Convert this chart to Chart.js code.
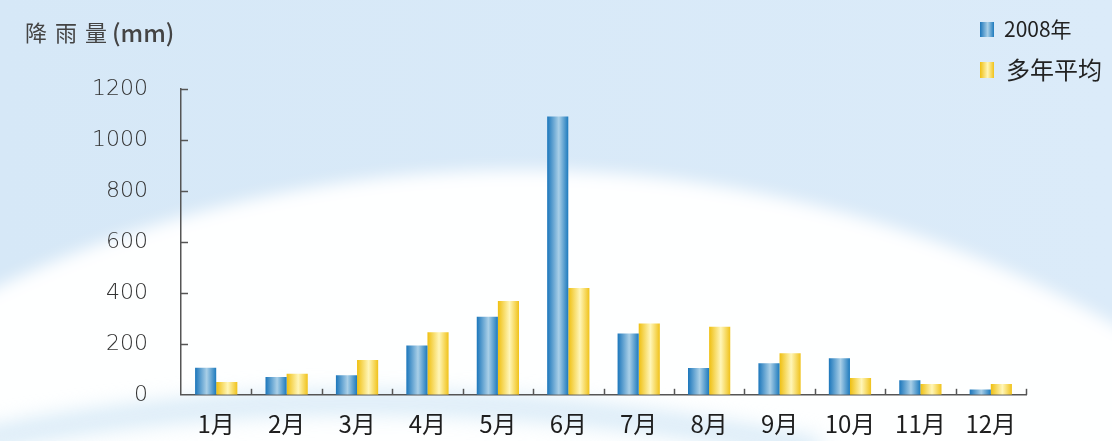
<!DOCTYPE html>
<html><head><meta charset="utf-8">
<script src="https://cdn.jsdelivr.net/npm/chart.js@4/dist/chart.umd.min.js"></script>
<style>html,body{margin:0;padding:0;background:#fff;overflow:hidden}#wrap{width:1112px;height:441px;position:relative}</style>
</head><body><div id="wrap"><canvas id="c" width="1112" height="441"></canvas></div>
<script>
const categories = ['1月','2月','3月','4月','5月','6月','7月','8月','9月','10月','11月','12月'];
const series2008 = [106, 70, 77, 193, 306, 1092, 241, 105, 124, 143, 57, 21];
const seriesAvg = [50, 83, 137, 245, 368, 419, 280, 267, 163, 66, 42, 42];
const yTicks = [0, 200, 400, 600, 800, 1000, 1200];
const seriesNames = ['2008年', '多年平均'];
const yTitleMain = '降雨量';
const yTitleUnit = '(mm)';

const BLUE_STOPS = [[0,'#1b76bb'],[0.55,'#a9cfe7'],[1,'#1d7abd']];
const YELLOW_STOPS = [[0,'#efbf10'],[0.55,'#fff6b8'],[1,'#f0c21a']];

function hGrad(ctx, x0, x1, stops){
  const g = ctx.createLinearGradient(x0,0,x1,0);
  stops.forEach(s=>g.addColorStop(s[0],s[1]));
  return g;
}

const bgPlugin = {
  id:'bg',
  beforeDraw(chart){
    const ctx = chart.ctx, W = chart.width, H = chart.height;
    ctx.save();
    const g = ctx.createLinearGradient(0,0,W,0);
    g.addColorStop(0,'#d6e8f7'); g.addColorStop(1,'#dbebf9');
    ctx.fillStyle = g; ctx.fillRect(0,0,W,H);
    ctx.filter = 'blur(8px)';
    ctx.fillStyle = 'rgba(255,255,255,0.97)';
    ctx.beginPath();
    ctx.ellipse(520, 1050, 1050, 880, 0, 0, Math.PI*2);
    ctx.fill();
    ctx.filter = 'blur(10px)';
    ctx.strokeStyle = 'rgba(200,225,243,0.7)';
    ctx.lineWidth = 22;
    ctx.beginPath();
    ctx.moveTo(-20, 440);
    ctx.quadraticCurveTo(380, 360, 820, 450);
    ctx.stroke();
    ctx.restore();
  }
};

const decoPlugin = {
  id:'deco',
  beforeDatasetsDraw(chart){
    const ctx = chart.ctx;
    chart.data.datasets.forEach((ds, di)=>{
      const meta = chart.getDatasetMeta(di);
      const stops = di === 0 ? BLUE_STOPS : YELLOW_STOPS;
      meta.data.forEach(bar=>{
        const w = bar.width;
        const o = Object.assign({}, bar.options);
        o.backgroundColor = hGrad(ctx, bar.x - w/2, bar.x + w/2, stops);
        bar.options = o;
      });
    });
  },
  afterDraw(chart){
    const ctx = chart.ctx;
    const ys = chart.scales.y;
    const ca = chart.chartArea;
    ctx.save();
    ctx.strokeStyle = '#555';
    ctx.lineWidth = 1.5;
    yTicks.forEach(v=>{
      if (v === 0) return;
      const y = Math.round(ys.getPixelForValue(v)) + 0.5;
      ctx.beginPath(); ctx.moveTo(ca.left, y); ctx.lineTo(ca.left + 7, y); ctx.stroke();
    });
    const step = (ca.right - ca.left) / categories.length;
    for (let i = 1; i <= categories.length; i++){
      const x = Math.round(ca.left + i*step) + 0.5;
      ctx.beginPath(); ctx.moveTo(x, ca.bottom); ctx.lineTo(x, ca.bottom - 6); ctx.stroke();
    }
    // y title
    ctx.fillStyle = '#444';
    ctx.textBaseline = 'middle';
    ctx.textAlign = 'left';
    ctx.font = '22px "Noto Sans CJK SC"';
    ctx.letterSpacing = '8px';
    ctx.fillText(yTitleMain, 25, 33);
    ctx.letterSpacing = '0px';
    ctx.font = '500 24px "Noto Sans CJK SC"';
    ctx.fillText(yTitleUnit, 112, 33);
    // legend
    ctx.fillStyle = hGrad(ctx, 980, 994, BLUE_STOPS);
    ctx.fillRect(980, 22, 14, 15);
    ctx.fillStyle = hGrad(ctx, 980, 994, YELLOW_STOPS);
    ctx.fillRect(980, 62, 14, 16);
    ctx.fillStyle = '#222';
    ctx.font = '21px "Noto Sans CJK SC"';
    ctx.fillText(seriesNames[0], 1004, 29);
    ctx.font = '24px "Noto Sans CJK SC"';
    ctx.fillText(seriesNames[1], 1006, 70);
    ctx.restore();
  }
};

new Chart(document.getElementById('c'), {
  type:'bar',
  data:{
    labels: categories,
    datasets:[
      {label: seriesNames[0], data: series2008, backgroundColor:'#3c8fca', borderWidth:0, barPercentage:1.0, categoryPercentage:0.6},
      {label: seriesNames[1], data: seriesAvg, backgroundColor:'#f5d33a', borderWidth:0, barPercentage:1.0, categoryPercentage:0.6}
    ]
  },
  plugins:[bgPlugin, decoPlugin],
  options:{
    responsive:false,
    animation:false,
    devicePixelRatio:1,
    layout:{padding:{left:0, right:86, top:89, bottom:0}},
    plugins:{legend:{display:false}, tooltip:{enabled:false}, title:{display:false}},
    scales:{
      x:{
        type:'category',
        offset:true,
        grid:{display:false, drawTicks:false},
        border:{display:true, color:'#555', width:1.5},
        ticks:{color:'#1e1e1e', padding:15, font:{family:'"Noto Sans CJK SC"', size:24}, maxRotation:0, autoSkip:false},
        afterFit(s){ s.height = 43; }
      },
      y:{
        min:0, max:1200,
        grid:{display:false, drawTicks:false},
        border:{display:true, color:'#555', width:1.5},
        afterBuildTicks(s){ s.ticks = yTicks.map(v=>({value:v})); },
        ticks:{color:'#333', padding:33, font:{family:'"DejaVu Sans"', size:22, weight:'200'}, callback:(v)=>String(v)},
        afterFit(s){ s.width = 181; }
      }
    }
  }
});
</script>
</body></html>
